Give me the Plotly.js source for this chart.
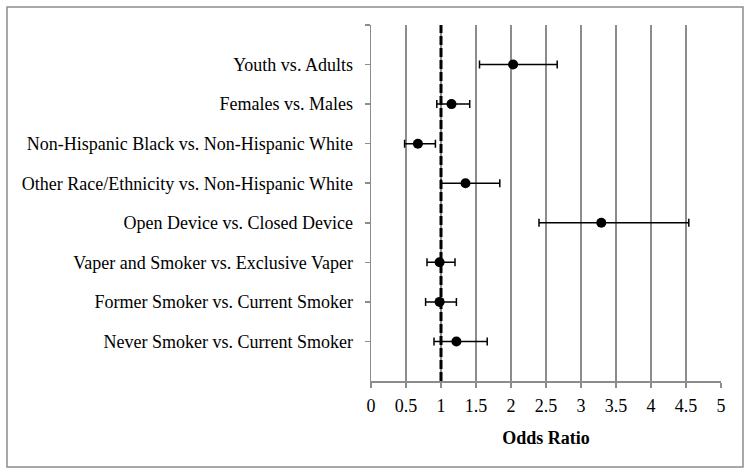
<!DOCTYPE html>
<html><head><meta charset="utf-8">
<script src="https://cdn.plot.ly/plotly-3.0.1.min.js"></script>
<style>html,body{margin:0;padding:0;background:#fff;}#chart{width:751px;height:475px;}</style>
</head><body><div id="chart"></div>
<script>
const categories = [
  "Youth vs. Adults",
  "Females vs. Males",
  "Non-Hispanic Black vs. Non-Hispanic White",
  "Other Race/Ethnicity vs. Non-Hispanic White",
  "Open Device vs. Closed Device",
  "Vaper and Smoker vs. Exclusive Vaper",
  "Former Smoker vs. Current Smoker",
  "Never Smoker vs. Current Smoker"
];
const oddsRatio = [2.03, 1.15, 0.67, 1.35, 3.29, 0.98, 0.98, 1.22];
const ciLower   = [1.55, 0.94, 0.48, 1.00, 2.40, 0.80, 0.78, 0.90];
const ciUpper   = [2.66, 1.41, 0.92, 1.84, 4.54, 1.20, 1.22, 1.66];
const xTicks = [0, 0.5, 1, 1.5, 2, 2.5, 3, 3.5, 4, 4.5, 5];
const xTickLabels = ["0","0.5","1","1.5","2","2.5","3","3.5","4","4.5","5"];
const refLine = 1;

const n = categories.length;
const yPos = categories.map((c, i) => n - i);

const trace = {
  type: "scatter", mode: "markers",
  x: oddsRatio, y: yPos,
  marker: {color: "#000", size: 10},
  error_x: {
    type: "data", symmetric: false,
    array: oddsRatio.map((v, i) => ciUpper[i] - v),
    arrayminus: oddsRatio.map((v, i) => v - ciLower[i]),
    color: "#000", thickness: 1.5, width: 4
  },
  hoverinfo: "x+y", showlegend: false
};

const layout = {
  width: 751, height: 475,
  margin: {l: 371, r: 30, t: 25, b: 94},
  paper_bgcolor: "#fff", plot_bgcolor: "#fff",
  font: {family: "Liberation Serif, serif", color: "#000", size: 18},
  xaxis: {
    range: [0, 5], tickvals: xTicks, ticktext: xTickLabels,
    showgrid: true, gridcolor: "#8c8c8c", gridwidth: 1.5,
    showline: true, linecolor: "#8c8c8c", linewidth: 1.5,
    ticks: "outside", ticklen: 5, tickcolor: "#8c8c8c", tickwidth: 1.5,
    zeroline: false, fixedrange: true, ticklabelstandoff: 3,
    title: {text: "<b>Odds Ratio</b>", font: {size: 18}, standoff: 16}
  },
  yaxis: {
    range: [0, n + 1],
    tickvals: yPos.concat([n + 1]), ticktext: categories.concat([""]),
    showgrid: false, zeroline: false,
    showline: true, linecolor: "#8c8c8c", linewidth: 1.5,
    ticks: "outside", ticklen: 5, tickcolor: "#8c8c8c", tickwidth: 1.5,
    ticklabelstandoff: 8, fixedrange: true
  },
  shapes: [
    {type: "line", xref: "x", yref: "paper", x0: refLine, x1: refLine, y0: 0, y1: 1,
     line: {color: "#000", width: 3, dash: "9px,3px"}, layer: "above"},
    {type: "rect", xref: "paper", yref: "paper",
     x0: (7 - 371) / 350, x1: (743 - 371) / 350,
     y0: (381 - 467) / 356, y1: (381 - 7) / 356,
     line: {color: "#8c8c8c", width: 1.5}, fillcolor: "rgba(0,0,0,0)", layer: "below"}
  ]
};

Plotly.newPlot("chart", [trace], layout, {displayModeBar: false, staticPlot: true});
</script></body></html>
